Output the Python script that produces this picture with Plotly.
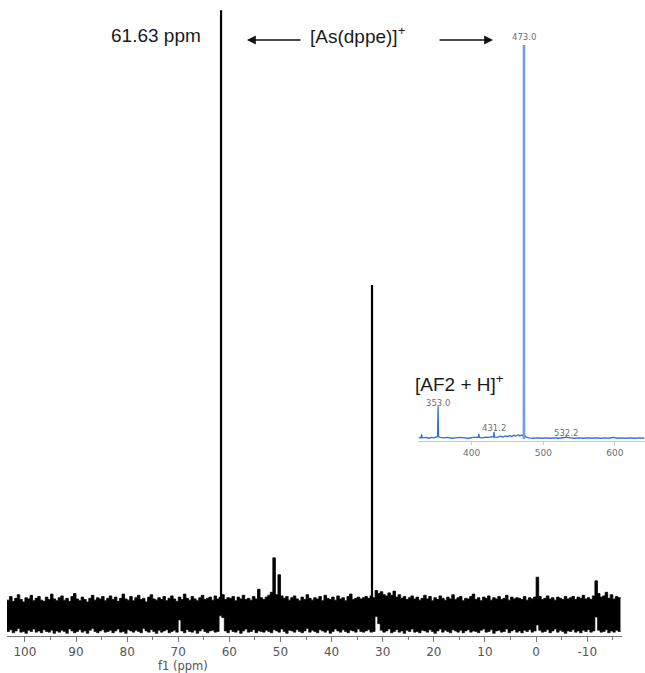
import plotly.graph_objects as go

# ---------------- data ----------------
# NMR grid: start ppm and step for the noise envelopes
ppm_start = 103.5
ppm_step = 0.5

noise_upper = [
    2.3, 2.9, 2.1, 2.6, 3.2, 2.4, 2.0, 2.7, 2.5, 3.1, 2.2, 2.6, 2.9, 2.3, 2.1, 2.8, 2.4, 3.3, 2.5, 2.2,
    2.7, 3.0, 2.3, 2.6, 2.1, 2.9, 3.4, 2.5, 2.2, 2.8, 2.4, 2.0, 2.6, 3.1, 2.3, 2.7, 2.5, 2.9, 2.2, 2.6,
    3.0, 2.4, 2.8, 2.1, 2.6, 3.3, 2.5, 2.3, 2.9, 2.2, 2.7, 3.1, 2.4, 2.6, 2.0, 2.8, 3.2, 2.5, 2.3, 2.7,
    2.4, 2.9, 2.2, 2.6, 3.0, 2.5, 2.1, 2.8, 2.4, 3.3, 2.6, 2.3, 2.9, 2.5, 2.2, 2.7, 3.1, 2.4, 2.6, 2.8,
    2.3, 3.0, 2.5, 2.8, 3.2, 2.4, 2.7, 2.6, 2.9, 2.2, 2.8, 2.5, 3.1, 2.4, 2.6, 2.3, 2.9, 2.5, 4.1, 2.7,
    2.4, 2.8, 3.1, 3.6, 9.3, 3.2, 6.5, 3.0, 2.6, 2.9, 2.3, 2.7, 3.0, 2.5, 2.2, 2.8, 2.4, 3.2, 2.6, 2.3,
    2.7, 2.5, 2.9, 2.2, 3.1, 2.6, 2.4, 2.8, 2.3, 3.0, 2.5, 2.7, 2.2, 2.9, 3.3, 2.4, 2.6, 2.8, 2.5, 2.7,
    2.9, 2.6, 3.0, 2.7, 3.9, 3.4, 3.7, 3.2, 3.0, 3.5, 3.1, 3.8, 2.8, 3.2, 2.6, 2.9, 2.4, 2.7, 3.0, 2.5,
    2.8, 2.3, 2.6, 3.1, 2.5, 2.9, 2.2, 2.7, 2.4, 3.0, 2.6, 2.3, 2.8, 2.5, 3.2, 2.4, 2.7, 2.9, 2.2, 2.6,
    2.5, 2.9, 3.3, 2.4, 2.7, 2.2, 2.8, 2.6, 3.0, 2.3, 2.7, 2.5, 2.9, 2.4, 2.6, 3.1, 2.3, 2.8, 2.5, 2.7,
    2.6, 2.4, 2.9, 2.3, 2.7, 2.5, 2.8, 6.1, 2.9, 2.4, 2.6, 3.0, 2.5, 2.7, 2.3, 2.8, 2.6, 2.4, 2.9, 2.5,
    2.7, 2.9, 2.4, 2.8, 2.6, 3.1, 2.5, 2.7, 2.4, 3.0, 5.5, 3.4, 2.8, 3.0, 3.6, 2.6, 3.2, 2.5, 2.9, 2.7,
    2.6,
]

noise_lower = [
    -2.9, -2.6, -3.1, -2.8, -2.4, -3.0, -2.9, -3.2, -2.7, -2.9, -2.5, -3.0, -2.8, -3.1, -2.6, -2.9, -3.0, -2.7, -3.2, -2.8,
    -3.0, -2.7, -2.9, -3.2, -2.5, -2.8, -3.1, -2.9, -2.6, -3.0, -2.8, -3.2, -2.7, -2.4, -2.9, -3.1, -2.8, -2.6, -3.0, -2.9,
    -2.7, -3.1, -2.8, -2.5, -3.0, -2.9, -3.2, -2.6, -2.8, -3.0, -2.7, -2.9, -3.1, -2.4, -2.8, -3.0, -2.6, -2.9, -3.2, -2.7,
    -3.0, -2.8, -2.6, -3.1, -2.9, -2.7, -3.0, -1.0, -2.8, -3.1, -2.6, -2.9, -3.0, -2.7, -3.2, -2.8, -2.5, -2.9, -3.1, -2.8,
    -2.7, -3.0, -2.9, -0.3, -0.6, -2.8, -3.1, -2.6, -2.9, -3.0, -2.7, -3.2, -2.8, -2.5, -3.0, -2.9, -2.6, -3.1, -2.8, -2.9,
    -3.0, -2.7, -2.9, -3.1, -2.6, -2.8, -3.0, -2.5, -2.9, -3.2, -2.7, -2.8, -3.0, -2.6, -2.9, -3.1, -2.8, -2.4, -3.0, -2.7,
    -2.9, -3.1, -2.6, -2.8, -3.0, -2.7, -3.2, -2.9, -2.5, -2.8, -3.0, -2.6, -2.9, -3.1, -2.7, -2.8, -3.0, -2.5, -2.9, -3.0,
    -2.8, -2.6, -3.0, -2.9, -0.4, -1.6, -2.7, -3.0, -2.8, -2.5, -3.1, -2.9, -2.6, -3.0, -2.8, -3.2, -2.7, -2.9, -2.5, -3.0,
    -2.9, -3.1, -2.7, -2.8, -3.0, -2.6, -2.9, -3.2, -2.8, -2.5, -3.0, -2.7, -2.9, -3.1, -2.6, -2.8, -3.0, -2.7, -3.1, -2.8,
    -2.6, -3.0, -2.8, -2.9, -3.1, -2.7, -2.5, -3.0, -2.9, -2.6, -3.2, -2.8, -2.7, -3.0, -2.9, -2.5, -3.1, -2.8, -2.6, -3.0,
    -2.8, -3.1, -2.7, -2.9, -2.6, -3.0, -2.8, -1.8, -2.7, -3.0, -2.9, -2.6, -3.1, -2.8, -2.5, -3.0, -2.7, -2.9, -3.2, -2.8,
    -2.9, -2.6, -3.0, -2.8, -3.1, -2.7, -2.9, -2.6, -3.0, -2.8, -0.5, -2.7, -3.0, -2.9, -2.6, -3.1, -2.8, -3.0, -2.7, -2.9,
    -2.8,
]

# main NMR peaks (ppm, relative height)
nmr_peak_ppm = [61.63, 32.1]
nmr_peak_height = [100.0, 54.5]

# x axis ticks
nmr_ticks = [100, 90, 80, 70, 60, 50, 40, 30, 20, 10, 0, -10]
nmr_ticktext = ["100", "90", "80", "70", "60", "50", "40", "30", "20", "10", "0", "-10"]

# inset mass spectrum (m/z, relative intensity %)
ms_mz = [326, 329, 330, 331, 336, 340, 344, 348, 350, 352.3, 353.0, 353.7, 356, 360, 366, 372, 378,
         384, 390, 396, 402, 406, 409.3, 410.0, 410.7, 415, 420, 424, 428, 430.5, 431.2, 431.9, 436,
         440, 444, 447, 450, 453, 456, 459, 461, 463, 465, 467, 469, 471, 472.4, 473.0, 473.6, 476,
         480, 486, 492, 498, 504, 510, 516, 522, 528, 531.5, 532.2, 532.9, 538, 544, 550, 556, 562,
         568, 574, 580, 586, 592, 598, 604, 610, 616, 622, 628, 634, 641]
ms_int = [0.3, 0.3, 1.2, 0.3, 0.4, 0.2, 0.4, 0.3, 0.5, 0.6, 8.3, 0.6, 0.4, 0.3, 0.4, 0.2, 0.3,
          0.4, 0.3, 0.2, 0.4, 0.3, 0.4, 1.3, 0.4, 0.3, 0.5, 0.4, 0.6, 0.5, 1.8, 0.5, 0.4,
          0.7, 0.5, 0.8, 0.6, 0.9, 0.6, 1.0, 0.7, 0.9, 1.1, 0.8, 1.0, 0.9, 1.2, 100.0, 1.0, 0.5,
          0.3, 0.2, 0.3, 0.2, 0.3, 0.2, 0.3, 0.2, 0.3, 0.4, 0.7, 0.4, 0.3, 0.2, 0.3, 0.2, 0.3,
          0.2, 0.3, 0.2, 0.3, 0.2, 0.4, 0.2, 0.3, 0.2, 0.3, 0.2, 0.3, 0.2]
ms_main_mz = [473.0]
ms_main_int = [100.0]
ms_label_mz = [473.0, 353.0, 431.2, 532.2]
ms_label_text = ["473.0", "353.0", "431.2", "532.2"]
ms_ticks = [400, 500, 600]

# ---------------- figure ----------------
ppm = [ppm_start - ppm_step * i for i in range(len(noise_upper))]

fig = go.Figure()

fig.add_trace(go.Scatter(x=ppm, y=noise_lower, mode="lines", line=dict(color="black", width=0.6, shape="hv"),
                         hoverinfo="skip", showlegend=False))
fig.add_trace(go.Scatter(x=ppm, y=noise_upper, mode="lines", line=dict(color="black", width=0.8, shape="hv"),
                         fill="tonexty", fillcolor="black", hoverinfo="skip", showlegend=False))

for p, h in zip(nmr_peak_ppm, nmr_peak_height):
    fig.add_trace(go.Scatter(x=[p, p], y=[0, h], mode="lines", line=dict(color="black", width=2.2),
                             showlegend=False, hoverinfo="skip"))

fig.add_trace(go.Scatter(x=ms_mz, y=ms_int, mode="lines", line=dict(color="#2f6fde", width=1.3),
                         xaxis="x2", yaxis="y2", showlegend=False, hoverinfo="skip"))
for m, h in zip(ms_main_mz, ms_main_int):
    fig.add_trace(go.Scatter(x=[m, m], y=[0, h], mode="lines", line=dict(color="#6f9ff0", width=2.6),
                             xaxis="x2", yaxis="y2", showlegend=False, hoverinfo="skip"))

X0, W, H = 7, 638, 636


def px(xp):
    return (xp - X0) / W


def py(yp):
    return 1 - yp / H


big_font = dict(family="Liberation Sans, Arial", size=19, color="#1a1a1a")
small_font = dict(family="DejaVu Sans", size=8.5, color="#707070")

annotations = [
    dict(text="61.63 ppm", x=px(156), y=py(35), font=big_font),
    dict(text="[As(dppe)]<sup>+</sup>", x=px(358), y=py(35), font=big_font),
    dict(text="[AF2 + H]<sup>+</sup>", x=px(459), y=py(383), font=big_font),
    dict(text="f1 (ppm)", x=px(183), y=py(666), font=dict(family="DejaVu Sans", size=11.5, color="#555")),
]
for a in annotations:
    a.update(xref="paper", yref="paper", showarrow=False, xanchor="center", yanchor="middle")

# arrows
annotations.append(dict(text="", x=px(247), y=py(40), xref="paper", yref="paper", ax=55, ay=0,
                        showarrow=True, arrowhead=2, arrowsize=1.1, arrowwidth=1.6, arrowcolor="#111"))
annotations.append(dict(text="", x=px(493), y=py(40), xref="paper", yref="paper", ax=-55, ay=0,
                        showarrow=True, arrowhead=2, arrowsize=1.1, arrowwidth=1.6, arrowcolor="#111"))

# MS peak labels
label_y_px = {"473.0": 37, "353.0": 403, "431.2": 428, "532.2": 433}
for m, t in zip(ms_label_mz, ms_label_text):
    annotations.append(dict(text=t, x=m, xref="x2", y=py(label_y_px[t]), yref="paper", showarrow=False,
                            xanchor="center", yanchor="middle", font=small_font))

fig.update_layout(
    width=645, height=673,
    margin=dict(l=X0, r=0, t=0, b=37),
    paper_bgcolor="white", plot_bgcolor="rgba(0,0,0,0)",
    showlegend=False,
    xaxis=dict(domain=[0, px(622)], range=[103.5, -16.8], showgrid=False, zeroline=False,
               showline=True, linecolor="#777", linewidth=1,
               ticks="outside", ticklen=5, tickcolor="#777", tickvals=nmr_ticks, ticktext=nmr_ticktext,
               tickfont=dict(family="DejaVu Sans", size=12, color="#555"),
               minor=dict(dtick=5, tick0=0, ticks="outside", ticklen=3, tickcolor="#777")),
    yaxis=dict(domain=[0, 1], range=[-3.64, 101.7], visible=False),
    xaxis2=dict(domain=[px(418), 1.0], range=[325, 642], anchor="y2", showgrid=False, zeroline=False,
                showline=True, linecolor="#c8c8c8", linewidth=1, ticks="outside", ticklen=3,
                tickcolor="#c8c8c8", tickvals=ms_ticks,
                tickfont=dict(family="DejaVu Sans", size=9, color="#707070")),
    yaxis2=dict(domain=[py(441), py(40)], range=[-0.5, 101.3], anchor="x2", visible=False),
    annotations=annotations,
)

fig.write_html("out.html")
